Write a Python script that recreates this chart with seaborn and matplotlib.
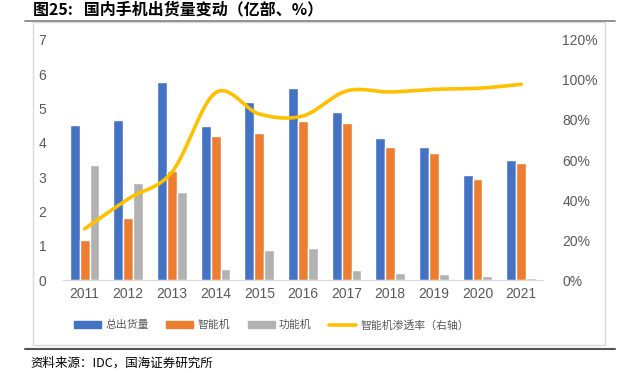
import numpy as np
import pandas as pd
import matplotlib
matplotlib.use("Agg")
import matplotlib.pyplot as plt
import seaborn as sns
from matplotlib.lines import Line2D
from matplotlib.patches import Rectangle, Patch

# data
years = ["2011", "2012", "2013", "2014", "2015", "2016", "2017", "2018", "2019", "2020", "2021"]
total = [4.53, 4.66, 5.78, 4.50, 5.18, 5.59, 4.90, 4.13, 3.88, 3.07, 3.49]
smart = [1.17, 1.80, 3.18, 4.19, 4.29, 4.64, 4.59, 3.89, 3.70, 2.95, 3.42]
feature = [3.36, 2.83, 2.58, 0.31, 0.87, 0.94, 0.30, 0.22, 0.17, 0.11, 0.06]
penetration = [25.6, 40.6, 54.0, 93.6, 83.0, 82.0, 94.5, 94.0, 95.3, 95.8, 97.8]

series_names = ["总出货量", "智能机", "功能机"]
line_name = "智能机渗透率（右轴）"
colors = ["#4472C4", "#ED7D31", "#B2B2B2"]
line_color = "#FFC000"

df = pd.DataFrame({
    "year": years * 3,
    "value": total + smart + feature,
    "series": [series_names[0]] * len(years) + [series_names[1]] * len(years) + [series_names[2]] * len(years),
})

sns.set_style("white")
plt.rcParams["font.family"] = ["Noto Sans CJK SC", "DejaVu Sans"]

fig = plt.figure(figsize=(6.22, 3.73), dpi=100)
ax = fig.add_axes([0.101, 0.249, 0.772, 0.644])

sns.barplot(data=df, x="year", y="value", hue="series", palette=colors,
            width=0.68, ax=ax, legend=False, saturation=1)

ax.set_ylim(0, 7)
ax.set_yticks(range(0, 8))
ax.set_xlim(-0.5, len(years) - 0.5)
ax.set_xlabel("")
ax.set_ylabel("")
for s in ["top", "right", "left"]:
    ax.spines[s].set_visible(False)
ax.spines["bottom"].set_color("#D9D9D9")
ax.tick_params(axis="both", length=0, labelsize=10, labelcolor="#595959")
ax.tick_params(axis="y", pad=12)
ax.tick_params(axis="x", pad=5)
for lab in ax.get_xticklabels() + ax.get_yticklabels():
    lab.set_family("Liberation Sans")


# Excel style smooth line (bezier with 1/6 control points)
def smooth_curve(xs, ys, n=30):
    xs = np.asarray(xs, float)
    ys = np.asarray(ys, float)
    out_x, out_y = [], []
    t = np.linspace(0, 1, n)
    for i in range(len(xs) - 1):
        j0 = max(i - 1, 0)
        j3 = min(i + 2, len(xs) - 1)
        cx1 = xs[i] + (xs[i + 1] - xs[j0]) / 6
        cy1 = ys[i] + (ys[i + 1] - ys[j0]) / 6
        cx2 = xs[i + 1] - (xs[j3] - xs[i]) / 6
        cy2 = ys[i + 1] - (ys[j3] - ys[i]) / 6
        bx = (1 - t) ** 3 * xs[i] + 3 * (1 - t) ** 2 * t * cx1 + 3 * (1 - t) * t ** 2 * cx2 + t ** 3 * xs[i + 1]
        by = (1 - t) ** 3 * ys[i] + 3 * (1 - t) ** 2 * t * cy1 + 3 * (1 - t) * t ** 2 * cy2 + t ** 3 * ys[i + 1]
        out_x.extend(bx)
        out_y.extend(by)
    return np.array(out_x), np.array(out_y)


ax2 = ax.twinx()
sx, sy = smooth_curve(np.arange(len(years)), penetration)
ax2.plot(sx, sy, color=line_color, lw=2.6, solid_capstyle="round")
ax2.set_ylim(0, 120)
ax2.set_yticks(range(0, 121, 20))
ax2.set_yticklabels([f"{v}%" for v in range(0, 121, 20)])
for s in ["top", "right", "left", "bottom"]:
    ax2.spines[s].set_visible(False)
ax2.tick_params(axis="y", length=0, labelsize=10, labelcolor="#595959", pad=14)
for lab in ax2.get_yticklabels():
    lab.set_family("Liberation Sans")
ax2.set_xlim(-0.5, len(years) - 0.5)

# legend
handles = [Patch(color=c) for c in colors] + [Line2D([0], [0], color=line_color, lw=2.6)]
labels = series_names + [line_name]
leg = fig.legend(handles, labels, loc="center left", bbox_to_anchor=(74 / 622, 1 - 325 / 373), ncol=4,
                 frameon=False, fontsize=7.8, handlelength=2.5, handleheight=0.55,
                 columnspacing=1.6, handletextpad=0.4, borderpad=0, borderaxespad=0)
for txt in leg.get_texts():
    txt.set_color("#595959")

# frame, rules, title, source
W, H = 622, 373
fig.add_artist(Rectangle((33 / W, 1 - 345 / H), (605 - 33) / W, (345 - 22) / H,
                         transform=fig.transFigure, fill=False, edgecolor="#D9D9D9", lw=1))
fig.add_artist(Line2D([25 / W, 615 / W], [1 - 21 / H, 1 - 21 / H], transform=fig.transFigure,
                      color="#7F7F7F", lw=1.2))
fig.add_artist(Line2D([25 / W, 615 / W], [1 - 349 / H, 1 - 349 / H], transform=fig.transFigure,
                      color="#555555", lw=1.5))
fig.text(33 / W, 1 - 9 / H, "图25:   国内手机出货量变动（亿部、%）", fontsize=11.5,
         fontweight="bold", va="center", ha="left", color="black")
fig.text(30 / W, 1 - 363 / H, "资料来源：IDC，国海证券研究所", fontsize=9,
         va="center", ha="left", color="black")

fig.savefig("out.png", dpi=100)
